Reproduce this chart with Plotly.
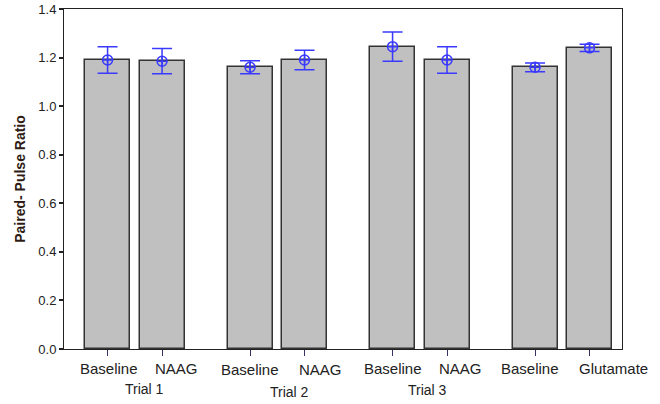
import plotly.graph_objects as go

# ---- data ----
conditions = ["Baseline", "NAAG", "Baseline", "NAAG", "Baseline", "NAAG", "Baseline", "Glutamate"]
trials = ["Trial 1", "Trial 2", "Trial 3"]
ppr_mean = [1.19, 1.185, 1.16, 1.19, 1.245, 1.19, 1.16, 1.24]
ppr_err = [0.055, 0.052, 0.027, 0.04, 0.06, 0.055, 0.018, 0.015]
y_ticks = [0.0, 0.2, 0.4, 0.6, 0.8, 1.0, 1.2, 1.4]

# ---- layout helpers (positions, px offsets of labels) ----
PAIR_STEP = 1.0
GROUP_STEP = 2.616
xpos = [(i // 2) * GROUP_STEP + (i % 2) * PAIR_STEP for i in range(len(conditions))]
label_xshift = [1, 14, 0, 16, 0, 13, -5, 24]
label_yshift = [-19, -19, -20, -20, -19, -19, -19, -19]
trial_xshift = [10, 12, 8]
trial_yshift = [-40, -43, -41]

FONT = "Liberation Sans, Arial, sans-serif"

fig = go.Figure()
fig.add_trace(go.Bar(
    x=xpos, y=ppr_mean, width=0.826,
    marker=dict(color="#c0c0c0", line=dict(color="#333333", width=1.5)),
    hoverinfo="skip", showlegend=False,
))
fig.add_trace(go.Scatter(
    x=xpos, y=ppr_mean, mode="markers",
    marker=dict(symbol="circle-cross-open", size=10, color="#3a3aff",
                line=dict(color="#3a3aff", width=1.5)),
    error_y=dict(type="data", array=ppr_err, visible=True,
                 color="#3a3aff", thickness=1.5, width=10),
    showlegend=False,
))

for i, name in enumerate(conditions):
    fig.add_annotation(
        x=xpos[i], xref="x", y=0, yref="paper",
        xshift=label_xshift[i], yshift=label_yshift[i],
        text=name, showarrow=False,
        font=dict(family=FONT, size=15, color="#222222"),
        xanchor="center", yanchor="middle",
    )

for g, name in enumerate(trials):
    fig.add_annotation(
        x=g * GROUP_STEP + PAIR_STEP / 2, xref="x", y=0, yref="paper",
        xshift=trial_xshift[g], yshift=trial_yshift[g],
        text=name, showarrow=False,
        font=dict(family=FONT, size=14, color="#222222"),
        xanchor="center", yanchor="middle",
    )

fig.update_layout(
    width=660, height=404,
    margin=dict(l=64, r=38, t=9, b=55),
    paper_bgcolor="white", plot_bgcolor="white",
    font=dict(family=FONT, color="#222222"),
    bargap=0,
)
fig.update_xaxes(
    range=[-0.80, 3 * GROUP_STEP + PAIR_STEP + 0.596],
    tickvals=xpos, showticklabels=False, automargin=False,
    ticks="outside", ticklen=6, tickcolor="#333366", tickwidth=1,
    showline=True, linecolor="#222222", linewidth=1, mirror=True,
    showgrid=False, zeroline=False,
)
fig.update_yaxes(
    range=[0, 1.4], tickvals=y_ticks, tickformat=".1f", automargin=False,
    ticks="outside", ticklen=4, tickcolor="#222222", tickwidth=1.5,
    tickfont=dict(size=13, color="#222222"),
    showline=True, linecolor="#222222", linewidth=1, mirror=True,
    showgrid=False, zeroline=False,
    title=dict(text="<b>Paired- Pulse Ratio</b>", standoff=9,
               font=dict(size=14, color="#2e1c14")),
)

fig.write_html("out.html", config={"displayModeBar": False},
               post_script="document.body.style.margin='0px';")
